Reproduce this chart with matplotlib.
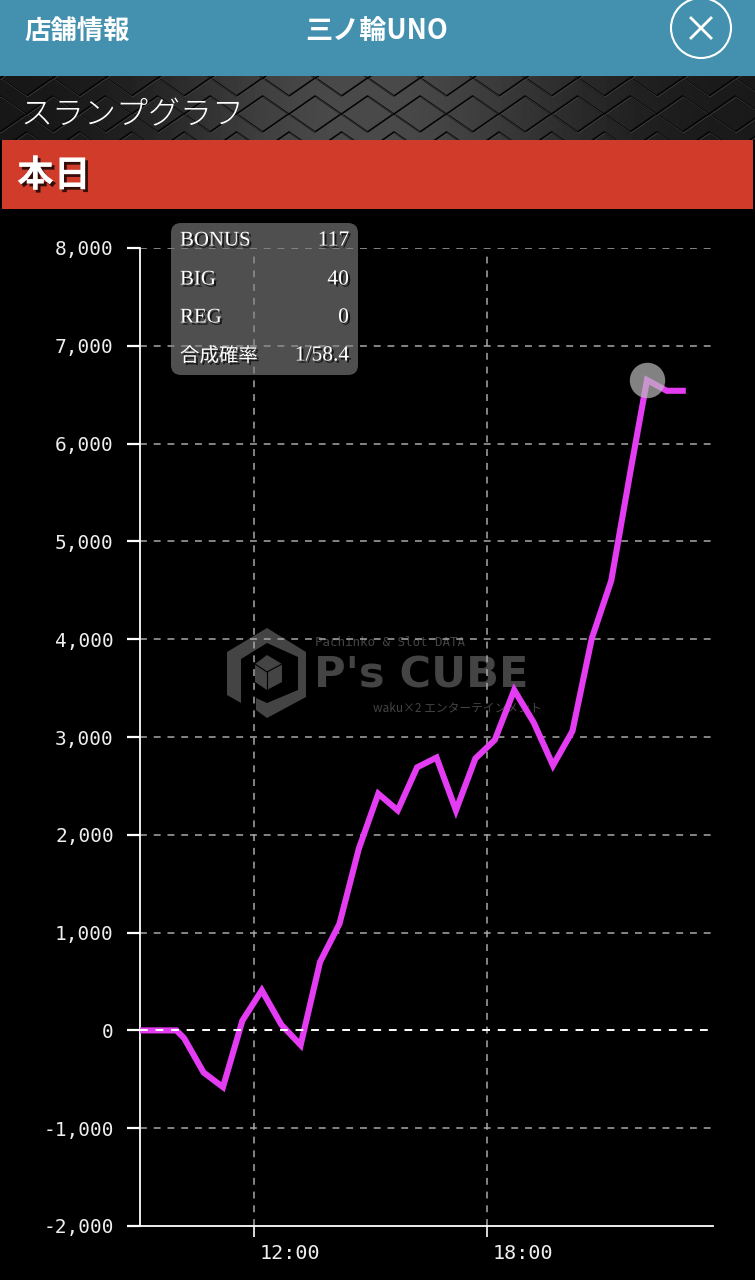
import matplotlib
matplotlib.use("Agg")
import matplotlib.pyplot as plt
import matplotlib.patheffects as pe
from matplotlib.patches import Rectangle, Circle, FancyBboxPatch, Polygon
from matplotlib.transforms import ScaledTranslation
import numpy as np

plt.rcParams['font.family'] = ['Noto Sans CJK JP', 'DejaVu Sans']

# 時刻と差枚
times = [9.05, 9.2, 9.7, 10.0, 10.2, 10.7, 11.2, 11.7, 12.2, 12.7, 13.2, 13.7, 14.2, 14.7, 15.2, 15.7,
         16.2, 16.7, 17.2, 17.7, 18.2, 18.7, 19.2, 19.7, 20.2, 20.7, 21.2, 21.7, 22.12, 22.63, 23.12]
values = [0, 0, 0, 0, -80, -430, -580, 100, 410, 60, -150, 700, 1090, 1860, 2420, 2250,
          2690, 2790, 2250, 2780, 2970, 3480, 3150, 2710, 3060, 4010, 4600, 5730, 6650, 6540, 6540]
y_ticks = [-2000, -1000, 0, 1000, 2000, 3000, 4000, 5000, 6000, 7000, 8000]
x_ticks = [12, 18]
x_labels = ["12:00", "18:00"]
info_names = ["BONUS", "BIG", "REG", "合成確率"]
info_values = ["117", "40", "0", "1/58.4"]

W, H = 755, 1280
fig = plt.figure(figsize=(W / 100, H / 100), dpi=100, facecolor="black")

# ヘッダー部分 (ピクセル座標)
bg = fig.add_axes([0, 0, 1, 1], zorder=0)
grad = np.array([[0.09, 0.12, 0.2, 0.28, 0.3, 0.26, 0.19, 0.13, 0.1]])
bg.imshow(grad, extent=(0, W, 140, 76), cmap="gray", vmin=0, vmax=1, aspect="auto", interpolation="bicubic", zorder=0)
bg.set_xlim(0, W)
bg.set_ylim(H, 0)
bg.axis("off")

# 金属っぽい模様
for cx in np.arange(-26, W + 52, 52.5):
    for cy, off in ((78, 0), (114, 26), (150, 0)):
        xs = np.array([cx + off - 26, cx + off, cx + off + 26, cx + off, cx + off - 26])
        ys = np.array([cy, cy - 18, cy, cy + 18, cy])
        bg.plot(xs, ys, color="#050505", lw=1.2, zorder=1)
        bg.plot(xs + 1, ys + 1, color="#4a4a4a", lw=0.4, zorder=1)

bg.add_patch(Rectangle((0, 0), W, 76, fc="#4491AF", ec="none", zorder=2))
bg.add_patch(Rectangle((0, 140), W, 70, fc="black", ec="none", zorder=2))
bg.add_patch(Rectangle((2, 140), 751, 69, fc="#D13B2A", ec="none", zorder=2))

bg.text(24, 31, "店舗情報", color="white", fontsize=19, fontweight="bold", va="center", zorder=3)
bg.text(377, 31, "三ノ輪UNO", color="white", fontsize=19.5, fontweight="bold", va="center", ha="center", zorder=3)
bg.add_patch(Circle((701, 28), 30, fc="none", ec="white", lw=1.5, zorder=3))
bg.plot([691, 711], [18, 38], color="white", lw=2.0, zorder=3)
bg.plot([691, 711], [38, 18], color="white", lw=2.0, zorder=3)
bg.text(20, 115, "スランプグラフ", color="white", fontsize=23, va="center", fontweight="light", zorder=3)
bg.text(17, 176, "本日", color="white", fontsize=26.5, va="center", fontweight="bold", zorder=3,
        path_effects=[pe.SimplePatchShadow(offset=(2, -2), shadow_rgbFace="black", alpha=0.75), pe.Normal()])

# ロゴ (透かし)
logo = "#444444"
bg.add_patch(Polygon([(227, 652), (267, 628), (306, 652), (306, 697), (267, 718), (256, 710), (256, 698), (267, 703),
                      (298, 690), (298, 657), (267, 643), (241, 659), (241, 703), (227, 695)],
                     fc=logo, ec="none", zorder=2))
bg.add_patch(Polygon([(267, 655), (282, 664), (282, 682), (267, 690), (255, 682), (255, 664)], fc=logo, ec="none", zorder=2))
bg.plot([255, 267, 282], [664, 672, 664], color="black", lw=0.8, zorder=2)
bg.plot([267, 267], [672, 690], color="black", lw=0.8, zorder=2)
bg.text(314, 676, "P's CUBE", color=logo, fontsize=31, fontweight="bold", va="center", family="DejaVu Sans", zorder=2)
bg.text(315, 642, "Pachinko & Slot DATA", color=logo, fontsize=9, va="center", family="DejaVu Sans Mono", zorder=2)
bg.text(373, 708, "waku×2 エンターテインメント", color=logo, fontsize=8.5, va="center", zorder=2)

# グラフ本体
ax = fig.add_axes([139.5 / W, 1 - 1226 / H, (713 - 139.5) / W, (1226 - 248) / H], zorder=1)
ax.patch.set_alpha(0)
ax.plot(times, values, color="#E43CF2", lw=4.4, solid_joinstyle="miter", solid_capstyle="butt", zorder=3)
ax.plot(times[28], values[28], "o", ms=25.5, color="#BBBBBB", alpha=0.7, mec="none", zorder=4)
ax.set_xlim(9.05, 23.82)
ax.set_ylim(-2000, 8000)
ax.set_yticks(y_ticks)
ax.set_yticklabels([f"{v:,}" for v in y_ticks], family="DejaVu Sans Mono", fontsize=14, color="#EEEEEE")
ax.set_xticks(x_ticks)
ax.set_xticklabels(x_labels, family="DejaVu Sans Mono", fontsize=14.5, color="#EEEEEE", ha="left")
ax.tick_params(axis="y", length=9.5, width=1.6, color="white", pad=9)
ax.tick_params(axis="x", length=8, width=1.2, color="white", pad=5)
for lab in ax.get_xticklabels():
    lab.set_transform(lab.get_transform() + ScaledTranslation(6 / 100, 0, fig.dpi_scale_trans))
for s in ("top", "right"):
    ax.spines[s].set_visible(False)
for s in ("left", "bottom"):
    ax.spines[s].set_color("white")
    ax.spines[s].set_linewidth(1.3)
for v in y_ticks[1:]:
    if v == 0:
        ax.axhline(v, color="white", lw=1.4, dashes=(4, 4), zorder=5, xmax=0.996)
    else:
        ax.axhline(v, color="#A8A8A8", lw=1.1, dashes=(4.5, 4.5), zorder=1, xmax=0.996)
for t in x_ticks:
    ax.axvline(t, color="#A8A8A8", lw=1.1, dashes=(4.5, 4.5), zorder=1, ymax=0.994)

# 左上の集計ボックス
top = fig.add_axes([0, 0, 1, 1], zorder=2)
top.set_xlim(0, W)
top.set_ylim(H, 0)
top.axis("off")
top.add_patch(FancyBboxPatch((181, 233), 167, 132, boxstyle="round,pad=10,rounding_size=10",
                             fc="#808080", ec="none", alpha=0.62))
shadow = [pe.SimplePatchShadow(offset=(1.5, -1.5), shadow_rgbFace="black", alpha=0.7), pe.Normal()]
rows = [241, 280, 318, 356]
for name, val, yy in zip(info_names, info_values, rows):
    fam = "Noto Sans CJK JP" if name == "合成確率" else "Liberation Serif"
    size = 14 if name == "合成確率" else 15
    top.text(180, yy, name, color="white", fontsize=size, va="center", family=fam, path_effects=shadow)
    top.text(349, yy, val, color="white", fontsize=15.5, va="center", ha="right", family="Liberation Serif", path_effects=shadow)

fig.savefig("out.png", dpi=100, facecolor="black")
